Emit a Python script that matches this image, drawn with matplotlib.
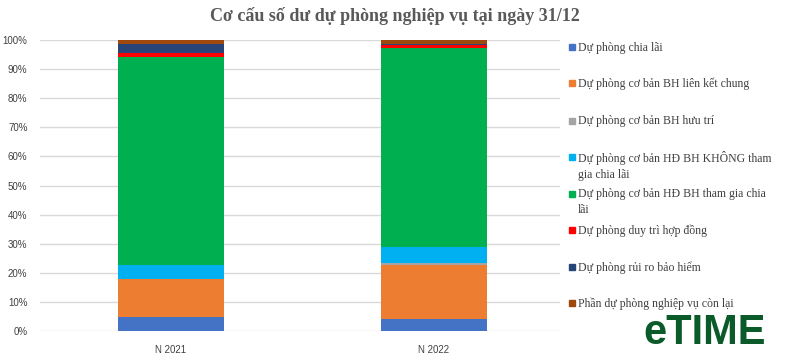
import matplotlib.pyplot as plt
from matplotlib.patches import Rectangle
import numpy as np

years = ["N 2021", "N 2022"]
labels = [
    "Dự phòng chia lãi",
    "Dự phòng cơ bản BH liên kết chung",
    "Dự phòng cơ bản BH hưu trí",
    "Dự phòng cơ bản HĐ BH KHÔNG tham\ngia chia lãi",
    "Dự phòng cơ bản HĐ BH tham gia chia\nlãi",
    "Dự phòng duy trì hợp đồng",
    "Dự phòng rủi ro bảo hiểm",
    "Phần dự phòng nghiệp vụ còn lại",
]
chia_lai = [4.8, 4.1]
lien_ket = [13.1, 18.6]
huu_tri = [0.0, 0.5]
khong_tham_gia = [4.8, 5.7]
tham_gia = [71.5, 68.5]
duy_tri = [1.3, 1.0]
rui_ro = [3.2, 0.3]
con_lai = [1.3, 1.3]
series = [chia_lai, lien_ket, huu_tri, khong_tham_gia, tham_gia, duy_tri, rui_ro, con_lai]
colors = ["#4472C4", "#ED7D31", "#A5A5A5", "#00B0F0", "#00B050", "#FF0000", "#264478", "#9E480E"]

W, H = 790, 362
fig = plt.figure(figsize=(W / 100, H / 100), dpi=100)
ax = fig.add_axes([40 / W, 1 - 331 / H, 520 / W, 291 / H])

x = np.arange(len(years))
bottom = np.zeros(len(years))
for vals, c in zip(series, colors):
    ax.bar(x, vals, 0.4, bottom=bottom, color=c, zorder=3)
    bottom += np.array(vals)

ax.set_xlim(-0.498, 1.479)
ax.set_ylim(0, 100)
ax.set_yticks(np.arange(0, 101, 10))
ax.set_yticklabels([f"{v}%" for v in range(0, 101, 10)], family="Liberation Sans", fontsize=7, color="#404040")
ax.set_xticks(x)
ax.set_xticklabels(years, family="Liberation Sans", fontsize=7, color="#404040")
ax.tick_params(length=0, pad=9)
ax.tick_params(axis="x", pad=10)
ax.grid(axis="y", color="#d9d9d9", linewidth=1, zorder=0)
for s in ax.spines.values():
    s.set_visible(False)

fig.text(0.5, 1 - 16 / H, "Cơ cấu số dư dự phòng nghiệp vụ tại ngày 31/12", ha="center", va="center",
         family="Liberation Serif", fontsize=13, fontweight="bold", color="#595959")

# legend drawn by hand
ys = [47.3, 83.3, 120.7, 156.7, 194, 230, 266.7, 302.7]
for lab, c, y in zip(labels, colors, ys):
    fig.add_artist(Rectangle((569 / W, 1 - (y + 3) / H), 6 / W, 6 / H, transform=fig.transFigure,
                             color=c))
    fig.text(578 / W, 1 - (y - 5.5) / H, lab, ha="left", va="top", family="Liberation Serif",
             fontsize=8.5, color="#404040", linespacing=1.4)

fig.text(705 / W, 1 - 333 / H, "eTIME", ha="center", va="center", family="Liberation Sans",
         fontsize=30, fontweight="bold", color="#0b5a2a")

fig.savefig("out.png", dpi=100)
